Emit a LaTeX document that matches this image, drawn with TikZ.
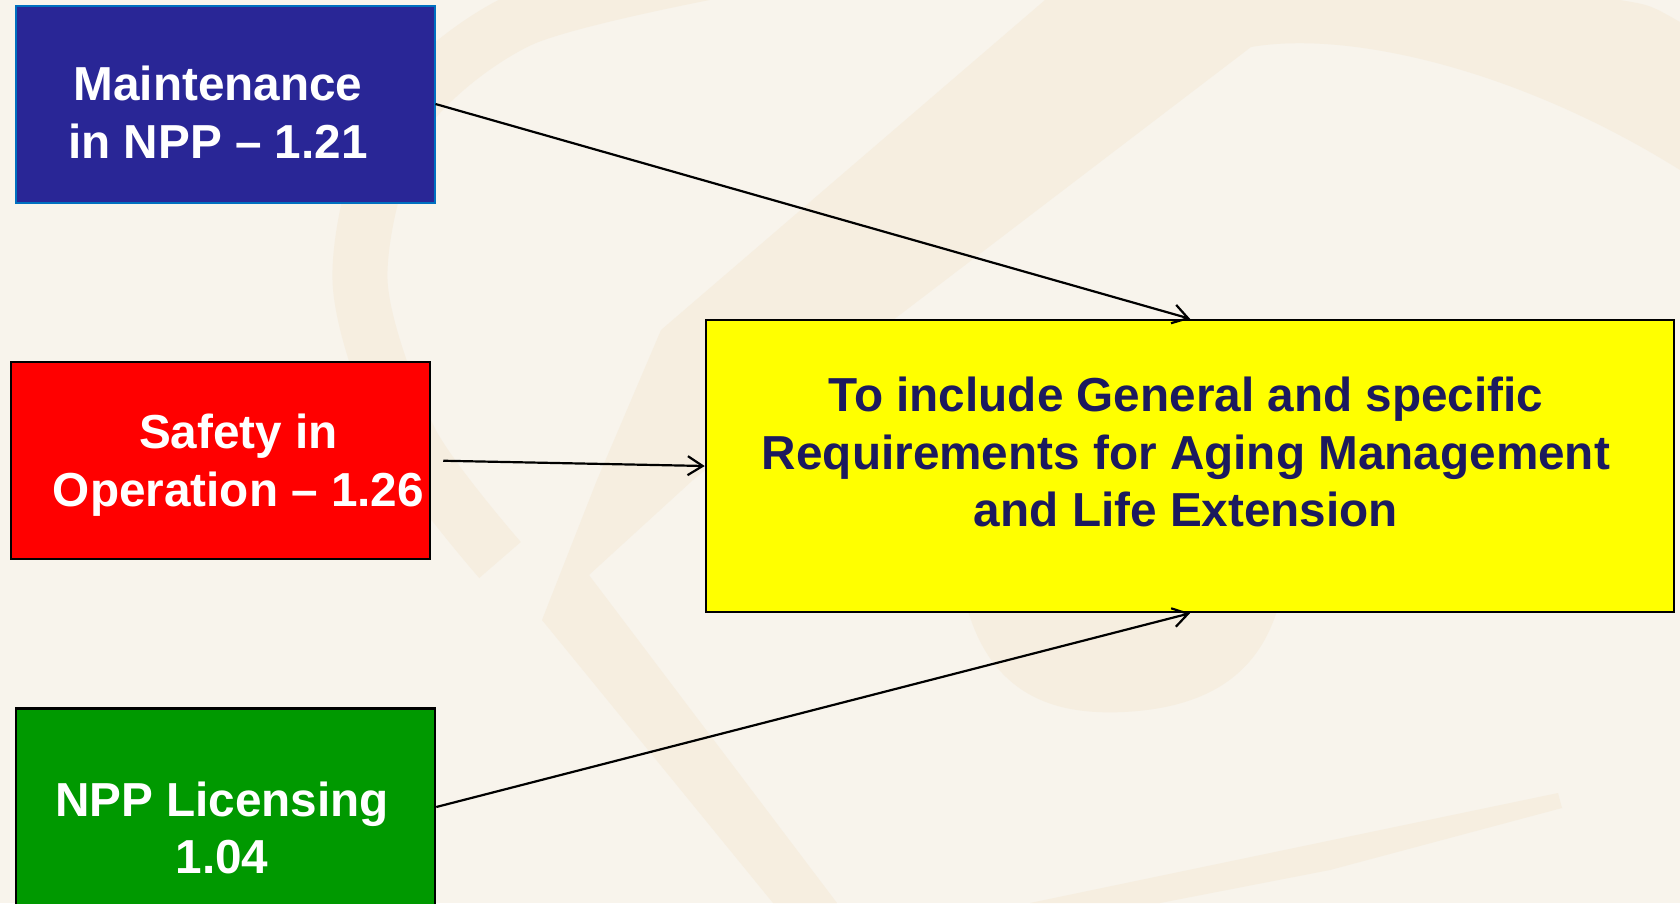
\documentclass[tikz,border=0pt]{standalone}
\usepackage{fontspec}
\setmainfont{Liberation Sans}
\usetikzlibrary{arrows.meta}

\definecolor{bgcream}{RGB}{248,244,236}
\definecolor{swirl}{RGB}{246,238,224}
\definecolor{maintblue}{RGB}{41,38,150}
\definecolor{maintedge}{RGB}{0,112,192}
\definecolor{safetyred}{RGB}{255,0,0}
\definecolor{licgreen}{RGB}{0,153,0}
\definecolor{targetyellow}{RGB}{255,255,0}
\definecolor{targettext}{RGB}{28,26,94}

\begin{document}
\begin{tikzpicture}[x=1pt,y=-1pt]
        % Define styles
        \tikzset{
            box/.style={rectangle, draw=black, line width=2.5pt, inner sep=0pt, minimum width=419pt, minimum height=197pt, text=white, font=\bfseries\fontsize{47.7}{57.5}\selectfont},
            maint/.style={box, draw=maintedge, line width=2pt, fill=maintblue},
            safety/.style={box, fill=safetyred},
            licensing/.style={box, fill=licgreen},
            target/.style={box, fill=targetyellow, minimum width=968pt, minimum height=292pt, text=targettext},
            arrow/.style={-{Straight Barb[length=15pt,width=19pt]}, line width=2.2pt}
        }

        % Background
        \useasboundingbox (0,0) rectangle (1680,903);
        \clip (0,0) rectangle (1680,903);
        \fill[bgcream] (0,0) rectangle (1680,903);
        \fill[swirl] (1045,0) -- (1620,0) .. controls (1650,5) .. (1680,22) -- (1680,170) .. controls (1520,70) and (1350,30) .. (1251,47) -- (880,330) -- (693,480) -- (589,575) -- (542,620) -- (597,480) -- (661,330) -- cycle;
        \fill[swirl] (589,575) -- (837,903) -- (773,903) -- (542,620) -- cycle;
        \draw[swirl, line width=55pt] plot[smooth] coordinates {(720,-30) (520,20) (400,120) (360,280) (410,440) (500,560)};
        \fill[swirl] (965,600) .. controls (990,700) and (1060,715) .. (1124,712) .. controls (1200,708) and (1260,680) .. (1280,600) -- cycle;
        \fill[swirl] (1558,793) -- (1562,808) -- (1330,870) -- (1160,903) -- (1030,903) -- cycle;

        % Nodes
        \node[maint] (maint_node) at (225,104) {\raisebox{-8pt}[\height][\depth]{\parbox{380pt}{\centering Maintenance\\ in NPP – 1.21}}\hspace*{14pt}};
        \node[safety] (safety_node) at (220.5,460.5) {\hspace*{36pt}\raisebox{-4.5pt}[\height][\depth]{\parbox{380pt}{\centering Safety in\\ Operation – 1.26}}};
        \node[licensing] (licensing_node) at (225.5,807) {\raisebox{-21pt}[\height][\depth]{\parbox{380pt}{\centering NPP Licensing\\ 1.04}}\hspace*{7pt}};
        \node[target] (target_node) at (1190,466) {\raisebox{14pt}[\height][\depth]{\parbox{900pt}{\centering To include General and specific\\ Requirements for Aging Management\\ and Life Extension}}\hspace*{8pt}};

        % Arrows
        \draw[arrow] (maint_node.east) -- (target_node.north);
        \draw[arrow, shorten <=12pt] (safety_node.east) -- (target_node.west);
        \draw[arrow] (licensing_node.east) -- (target_node.south);
\end{tikzpicture}
\end{document}
